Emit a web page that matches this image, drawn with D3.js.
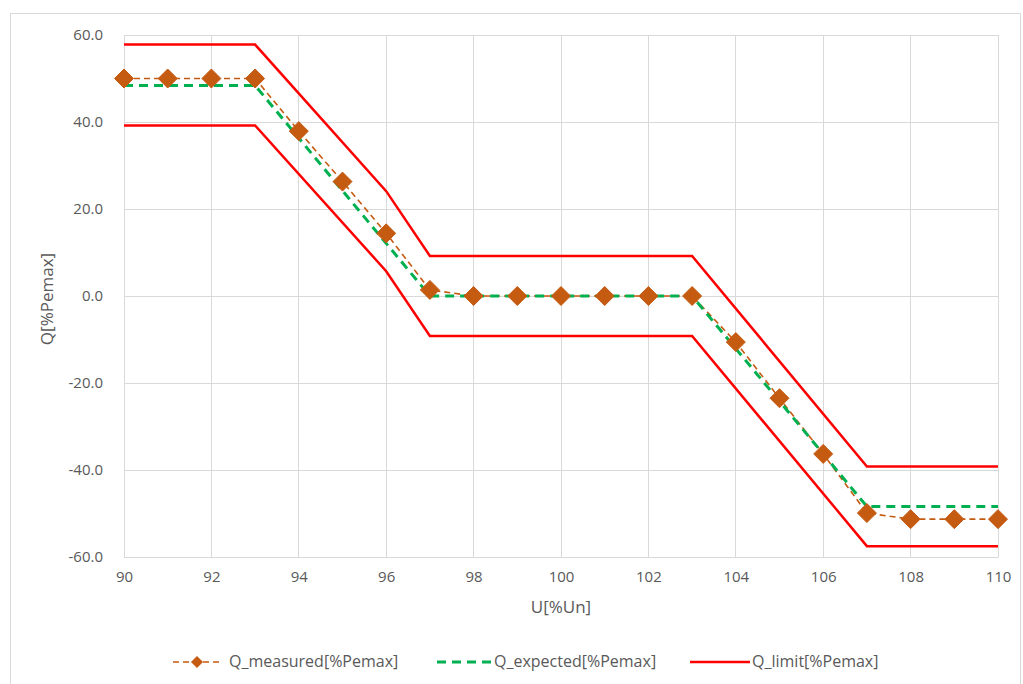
<!DOCTYPE html>
<html><head><meta charset="utf-8">
<script src="https://cdn.jsdelivr.net/npm/d3@7"></script>
<style>body{margin:0;background:#fff;} text{font-family:"Open Sans",sans-serif;fill:#595959;}</style>
</head><body>
<svg id="c" width="1023" height="684"></svg>
<script>
// ---- data ----
const uValues = [90,91,92,93,94,95,96,97,98,99,100,101,102,103,104,105,106,107,108,109,110];
const qMeasured = [50,50,50,50,37.9,26.3,14.4,1.4,0,0,0,0,0,0,-10.6,-23.5,-36.3,-49.9,-51.3,-51.3,-51.3];
const qExpected = [48.4,48.4,48.4,48.4,36.3,24.2,12.1,0,0,0,0,0,0,0,-12.1,-24.2,-36.3,-48.4,-48.4,-48.4,-48.4];
const limitU = [90,93,96,97,103,107,110];
const limitUpper = [57.8,57.8,24.1,9.2,9.2,-39.2,-39.2];
const limitLower = [39.2,39.2,5.7,-9.2,-9.2,-57.5,-57.5];
const xTicks = [90,92,94,96,98,100,102,104,106,108,110];
const yTicks = [-60,-40,-20,0,20,40,60];
const seriesNames = ["Q_measured[%Pemax]","Q_expected[%Pemax]","Q_limit[%Pemax]"];
const xTitle = "U[%Un]", yTitle = "Q[%Pemax]";

const svg = d3.select("#c");
svg.append("rect").attr("x",10.5).attr("y",13.5).attr("width",1010).attr("height",680)
  .attr("fill","#fff").attr("stroke","#d9d9d9");

const x = d3.scaleLinear().domain([90,110]).range([124,998]);
const y = d3.scaleLinear().domain([-60,60]).range([557,35]);

// grid
svg.append("g").selectAll("line").data(xTicks).join("line")
  .attr("x1",d=>x(d)).attr("x2",d=>x(d)).attr("y1",y(60)).attr("y2",y(-60))
  .attr("stroke","#d9d9d9").attr("stroke-width",1).attr("shape-rendering","crispEdges");
svg.append("g").selectAll("line").data(yTicks).join("line")
  .attr("x1",x(90)).attr("x2",x(110)).attr("y1",d=>y(d)).attr("y2",d=>y(d))
  .attr("stroke","#d9d9d9").attr("stroke-width",1).attr("shape-rendering","crispEdges");

const fmtY = d => d3.format(".1f")(d).replace("\u2212","-");
const xAxis = d3.axisBottom(x).tickValues(xTicks).tickSize(0).tickPadding(14);
const gx = svg.append("g").attr("transform",`translate(0,${y(-60)})`).call(xAxis);
gx.select(".domain").attr("stroke","#d9d9d9");
gx.selectAll("text").style("font-size","15px").attr("fill","#595959").style("font-family","Open Sans");
const yAxis = d3.axisLeft(y).tickValues(yTicks).tickSize(0).tickPadding(21).tickFormat(fmtY);
const gy = svg.append("g").attr("transform",`translate(${x(90)},0)`).call(yAxis);
gy.select(".domain").remove();
gy.selectAll("text").style("font-size","15px").attr("fill","#595959").style("font-family","Open Sans");

svg.append("text").attr("x",561).attr("y",613).attr("text-anchor","middle")
  .style("font-size","17px").text(xTitle);
svg.append("text").attr("transform",`translate(53,299) rotate(-90)`).attr("text-anchor","middle")
  .style("font-size","17px").text(yTitle);

// lines
const line = d3.line().x(d=>x(d[0])).y(d=>y(d[1]));
svg.append("path").datum(limitU.map((u,i)=>[u,limitUpper[i]])).attr("d",line)
  .attr("fill","none").attr("stroke","#ff0000").attr("stroke-width",2.5);
svg.append("path").datum(limitU.map((u,i)=>[u,limitLower[i]])).attr("d",line)
  .attr("fill","none").attr("stroke","#ff0000").attr("stroke-width",2.5);
svg.append("path").datum(uValues.map((u,i)=>[u,qMeasured[i]])).attr("d",line)
  .attr("fill","none").attr("stroke","#c55a11").attr("stroke-width",1.6).attr("stroke-dasharray","6,4");
svg.append("path").datum(uValues.map((u,i)=>[u,qExpected[i]])).attr("d",line)
  .attr("fill","none").attr("stroke","#00b050").attr("stroke-width",3).attr("stroke-dasharray","9,6");
const dia = r=>`M0,${-r}L${r},0L0,${r}L${-r},0Z`;
svg.append("g").selectAll("path").data(uValues.map((u,i)=>[u,qMeasured[i]])).join("path")
  .attr("transform",d=>`translate(${x(d[0])},${y(d[1])})`).attr("d",dia(9.5))
  .attr("fill","#c55a11").attr("stroke","#c55a11").attr("stroke-width",1);

// legend
const ly = 662;
const lg = svg.append("g");
lg.append("line").attr("x1",172).attr("x2",222).attr("y1",ly).attr("y2",ly)
  .attr("stroke","#c55a11").attr("stroke-width",1.6).attr("stroke-dasharray","6,4").attr("stroke-dashoffset",-1);
lg.append("path").attr("transform",`translate(197,${ly})`).attr("d",dia(6)).attr("fill","#c55a11");
lg.append("text").attr("x",229).attr("y",ly+5).style("font-size","16px").text(seriesNames[0]);
lg.append("line").attr("x1",437).attr("x2",491).attr("y1",ly).attr("y2",ly)
  .attr("stroke","#00b050").attr("stroke-width",3).attr("stroke-dasharray","9,6");
lg.append("text").attr("x",494).attr("y",ly+5).style("font-size","16px").text(seriesNames[1]);
lg.append("line").attr("x1",690).attr("x2",750).attr("y1",ly).attr("y2",ly)
  .attr("stroke","#ff0000").attr("stroke-width",2.5);
lg.append("text").attr("x",752).attr("y",ly+5).style("font-size","16px").text(seriesNames[2]);
</script>
</body></html>
